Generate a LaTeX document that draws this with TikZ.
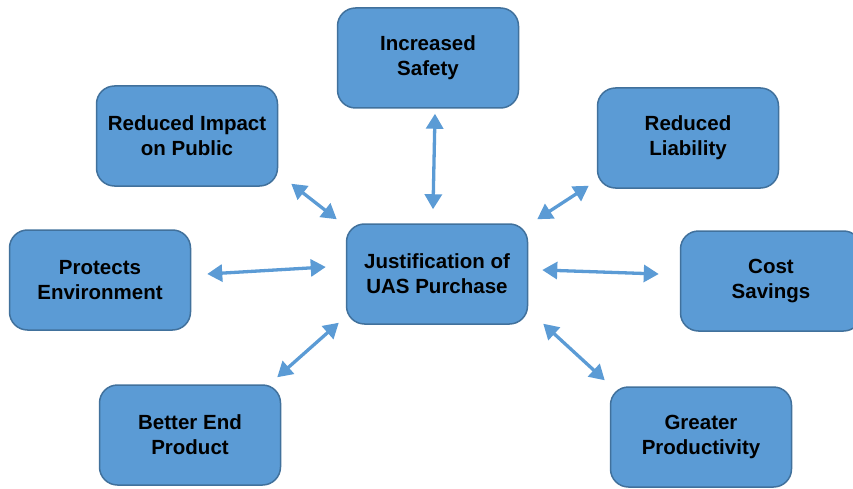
\documentclass[tikz,border=0pt]{standalone}
\usepackage{fontspec}
\setmainfont{Liberation Sans}
\usepackage{tikz}
\usetikzlibrary{positioning,arrows.meta}
\definecolor{boxblue}{HTML}{5B9BD5}
\definecolor{boxedge}{HTML}{41719C}
\tikzstyle{benefit} = [draw=boxedge,line width=1.5pt,fill=boxblue,rounded corners=18pt,minimum width=181pt,minimum height=100pt,align=center,font=\bfseries\fontsize{20.5}{25}\selectfont]
\tikzstyle{link} = [draw=boxblue,line width=3.3pt,{Triangle[length=15pt,width=17pt]}-{Triangle[length=15pt,width=17pt]}]

\begin{document}
\begin{tikzpicture}[x=1pt,y=-1pt]
    \clip (0,0) rectangle (853,489);
    \node[benefit] (justification) at (437,274) {Justification of\\UAS Purchase};
    \node[benefit] (safety) at (428,58) {Increased\\Safety};
    \node[benefit] (impact) at (187,136) {Reduced Impact\\on Public};
    \node[benefit] (liability) at (688,138) {Reduced\\Liability};
    \node[benefit] (environment) at (100,280) {Protects\\Environment};
    \node[benefit] (savings) at (771,281) {Cost\\Savings};
    \node[benefit] (product) at (190,435) {Better End\\Product};
    \node[benefit] (productivity) at (701,437) {Greater\\Productivity};
    % arrows between the centre and each benefit
    \draw[link] ([xshift=7pt,yshift=-5pt]safety.south) -- ([xshift=-4pt,yshift=14pt]justification.north);
    \draw[link] ([xshift=13pt,yshift=3pt]impact.south east) -- ([xshift=-9pt,yshift=4pt]justification.north west);
    \draw[link] ([xshift=-8pt,yshift=3pt]liability.south west) -- ([xshift=9pt,yshift=4pt]justification.north east);
    \draw[link] ([xshift=16pt,yshift=6pt]environment.east) -- ([xshift=-20pt,yshift=7pt]justification.west);
    \draw[link] ([xshift=-21pt,yshift=7pt]savings.west) -- ([xshift=14pt,yshift=4pt]justification.east);
    \draw[link] ([xshift=-4pt,yshift=7pt]product.north east) -- ([xshift=-7pt,yshift=2pt]justification.south west);
    \draw[link] ([xshift=-5pt,yshift=6pt]productivity.north west) -- ([xshift=15pt,yshift=1pt]justification.south east);
\end{tikzpicture}
\end{document}
